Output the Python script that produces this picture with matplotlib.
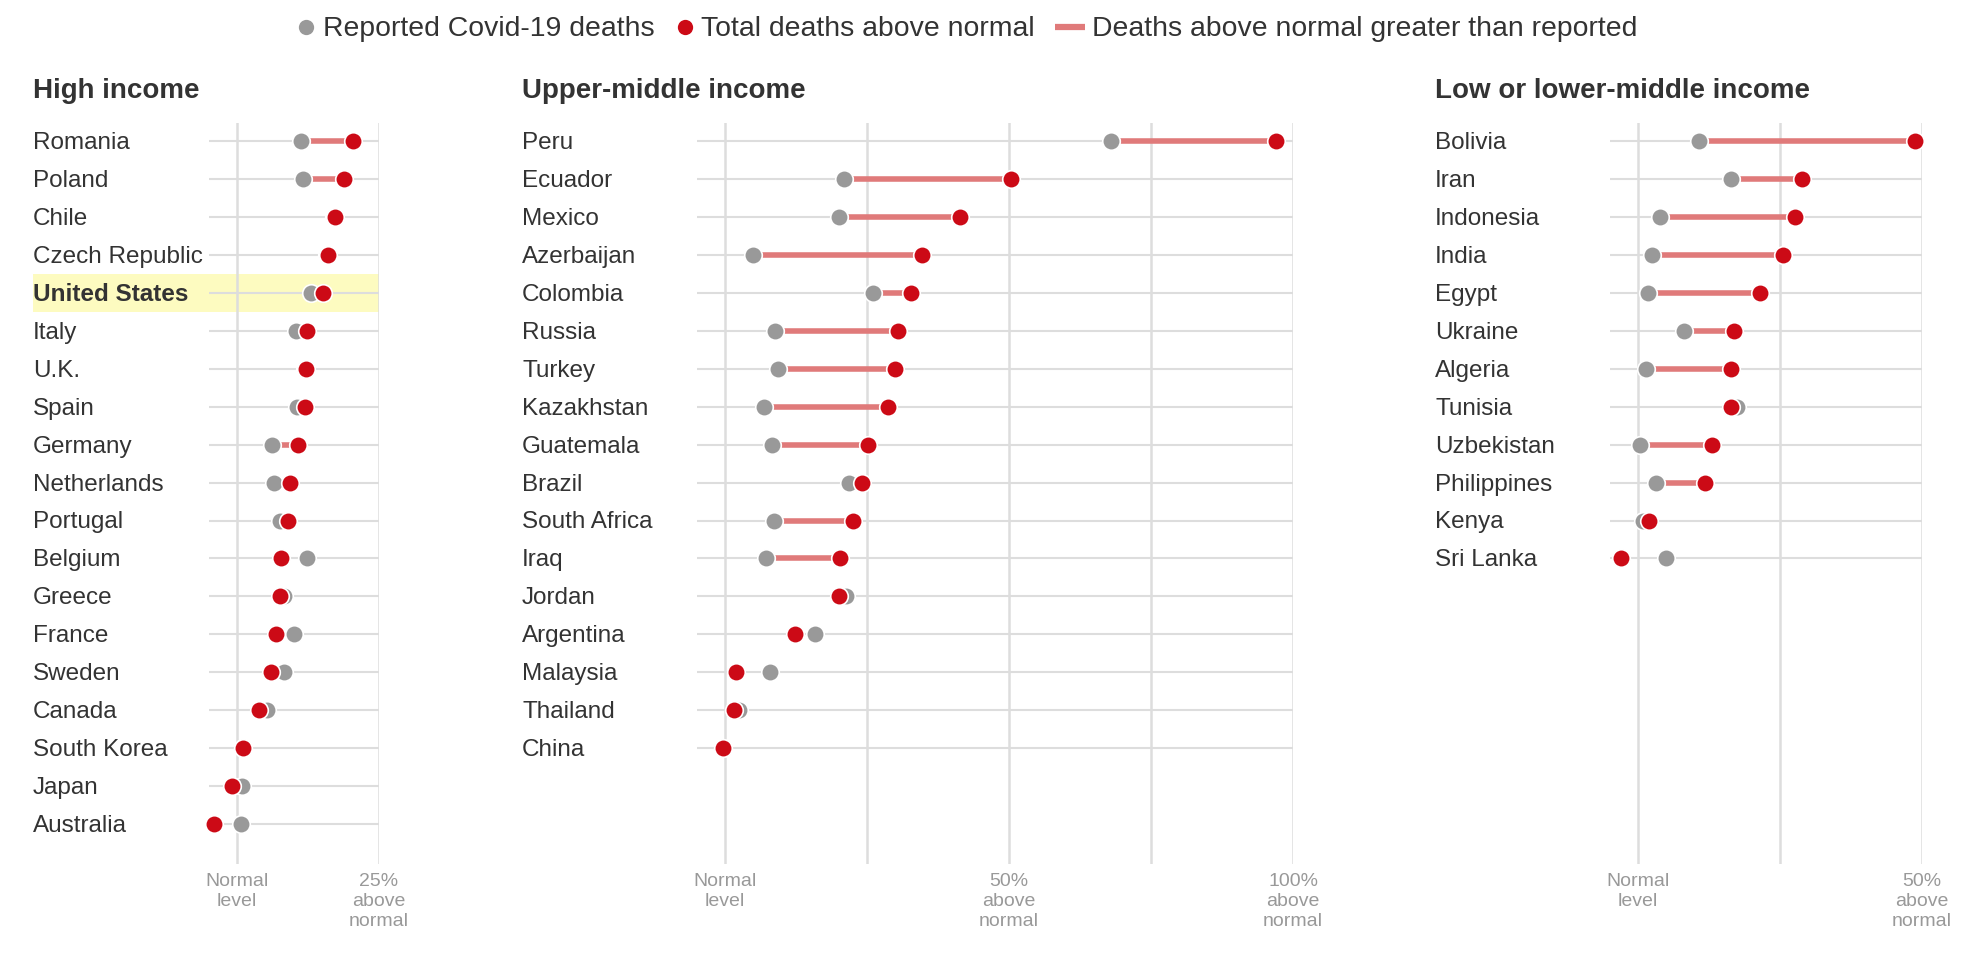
import matplotlib
matplotlib.use("Agg")
import matplotlib.pyplot as plt
import matplotlib.transforms as mtransforms
from matplotlib.patches import Rectangle

plt.rcParams['font.family'] = ['Liberation Sans', 'DejaVu Sans']

# ---------------------------------------------------------------------------
# Data: percent above normal deaths (reported Covid-19 vs total excess)
# ---------------------------------------------------------------------------
high_names = ['Romania', 'Poland', 'Chile', 'Czech Republic', 'United States',
              'Italy', 'U.K.', 'Spain', 'Germany', 'Netherlands', 'Portugal',
              'Belgium', 'Greece', 'France', 'Sweden', 'Canada', 'South Korea',
              'Japan', 'Australia']
high_reported = [11.2, 11.6, 17.1, 15.8, 13.1, 10.4, 11.9, 10.5, 6.1, 6.6, 7.6,
                 12.3, 8.2, 10.0, 8.3, 5.2, 1.0, 0.8, 0.7]
high_total = [20.4, 18.8, 17.3, 16.0, 15.1, 12.3, 12.1, 11.9, 10.7, 9.3, 8.9,
              7.7, 7.6, 6.9, 6.0, 3.9, 1.1, -0.8, -4.1]

upper_names = ['Peru', 'Ecuador', 'Mexico', 'Azerbaijan', 'Colombia', 'Russia',
               'Turkey', 'Kazakhstan', 'Guatemala', 'Brazil', 'South Africa',
               'Iraq', 'Jordan', 'Argentina', 'Malaysia', 'Thailand', 'China']
upper_reported = [67.9, 21.0, 20.0, 5.0, 26.0, 8.8, 9.4, 6.9, 8.2, 21.8, 8.7,
                  7.3, 21.3, 15.9, 7.9, 2.5, -0.4]
upper_total = [97.0, 50.4, 41.3, 34.6, 32.8, 30.5, 29.9, 28.7, 25.1, 24.1, 22.6,
               20.3, 20.1, 12.3, 2.0, 1.5, -0.3]

low_names = ['Bolivia', 'Iran', 'Indonesia', 'India', 'Egypt', 'Ukraine',
             'Algeria', 'Tunisia', 'Uzbekistan', 'Philippines', 'Kenya',
             'Sri Lanka']
low_reported = [10.8, 16.3, 3.8, 2.5, 1.8, 8.1, 1.4, 17.5, 0.4, 3.2, 0.8, 4.9]
low_total = [48.7, 28.8, 27.6, 25.6, 21.4, 16.9, 16.4, 16.3, 13.1, 11.8, 1.9,
             -3.0]

panel_titles = ['High income', 'Upper-middle income', 'Low or lower-middle income']
highlight = 'United States'

# ---------------------------------------------------------------------------
# Style
# ---------------------------------------------------------------------------
GRAY = '#999999'
RED = '#cc0a16'
PINK = '#e07a7a'
GRID = '#dddddd'
TEXT = '#333333'
TICK = '#999999'
YELLOW = '#fdfbc0'

W, H = 1976, 958
PX = 5.68            # pixels per percentage point
ROW0, ROWH = 141, 37.95
TOP, BOTTOM = 123, 864

fig = plt.figure(figsize=(W / 100, H / 100), dpi=100)
fig.patch.set_facecolor('white')

bg = fig.add_axes([0, 0, 1, 1], zorder=0)
bg.set_xlim(0, W)
bg.set_ylim(H, 0)
bg.axis('off')

panels = [
    dict(names=high_names, rep=high_reported, tot=high_total, zero=237,
         xmax=25, lines=[0, 25], ticks=[0, 25], label_px=33,
         ticklabels=['Normal\nlevel', '25%\nabove\nnormal']),
    dict(names=upper_names, rep=upper_reported, tot=upper_total, zero=725,
         xmax=100, lines=[0, 25, 50, 75, 100], ticks=[0, 50, 100], label_px=522,
         ticklabels=['Normal\nlevel', '50%\nabove\nnormal', '100%\nabove\nnormal']),
    dict(names=low_names, rep=low_reported, tot=low_total, zero=1638,
         xmax=50, lines=[0, 25, 50], ticks=[0, 50], label_px=1435,
         ticklabels=['Normal\nlevel', '50%\nabove\nnormal']),
]

XMIN = -5
y_top = (TOP - ROW0) / ROWH
y_bot = (BOTTOM - ROW0) / ROWH

for p, title in zip(panels, panel_titles):
    left = p['zero'] + XMIN * PX
    right = p['zero'] + p['xmax'] * PX
    ax = fig.add_axes([left / W, 1 - BOTTOM / H, (right - left) / W,
                       (BOTTOM - TOP) / H], zorder=1)
    ax.set_facecolor('none')
    ax.set_xlim(XMIN, p['xmax'])
    ax.set_ylim(y_bot, y_top)
    for s in ax.spines.values():
        s.set_visible(False)
    ax.set_yticks([])
    ax.set_xticks(p['ticks'])
    ax.set_xticklabels(p['ticklabels'])
    ax.tick_params(axis='x', length=0, pad=6.5, labelsize=14,
                   labelcolor=TICK)
    for lbl in ax.get_xticklabels():
        lbl.set_linespacing(1.22)

    rows = list(range(len(p['names'])))
    label_tr = mtransforms.blended_transform_factory(fig.transFigure,
                                                     ax.transData)

    for x in p['lines']:
        ax.axvline(x, color=GRID, lw=1.8, zorder=1)
    ax.hlines(rows, XMIN, p['xmax'], color=GRID, lw=1.5, zorder=1)

    for i, (name, r, t) in enumerate(zip(p['names'], p['rep'], p['tot'])):
        bold = name == highlight
        if bold:
            x0 = (p['label_px'] - p['zero']) / PX
            ax.add_patch(Rectangle((x0, i - 0.5), p['xmax'] - x0, 1.0,
                                   facecolor=YELLOW, edgecolor='none',
                                   zorder=0, clip_on=False))
        ax.text(p['label_px'] / W, i + 0.21, name, transform=label_tr,
                ha='left', va='baseline', fontsize=17.5, color=TEXT,
                fontweight='bold' if bold else 'normal')
        if t > r:
            ax.plot([r, t], [i, i], color=PINK, lw=4, solid_capstyle='butt',
                    zorder=2)

    ax.scatter(p['rep'], rows, s=160, color=GRAY, edgecolor='white',
               linewidth=1.2, zorder=3, clip_on=False)
    ax.scatter(p['tot'], rows, s=160, color=RED, edgecolor='white',
               linewidth=1.2, zorder=4, clip_on=False)

    bg.text(p['label_px'], 98, title, ha='left', va='baseline', fontsize=20,
            fontweight='bold', color=TEXT)

# ---- Legend ---------------------------------------------------------------
LEG_Y = 27
bg.plot([306], [LEG_Y], marker='o', ms=11, color=GRAY, mec='white', mew=0)
bg.text(323, 36, 'Reported Covid-19 deaths', ha='left', va='baseline',
        fontsize=20.4, color=TEXT)
bg.plot([685], [LEG_Y], marker='o', ms=11, color=RED, mec='white', mew=0)
bg.text(701, 36, 'Total deaths above normal', ha='left', va='baseline',
        fontsize=20.4, color=TEXT)
bg.plot([1055, 1085], [LEG_Y, LEG_Y], color=PINK, lw=4.5,
        solid_capstyle='butt')
bg.text(1092, 36, 'Deaths above normal greater than reported', ha='left',
        va='baseline', fontsize=20.4, color=TEXT)

fig.savefig('out.png', dpi=100, facecolor='white')
